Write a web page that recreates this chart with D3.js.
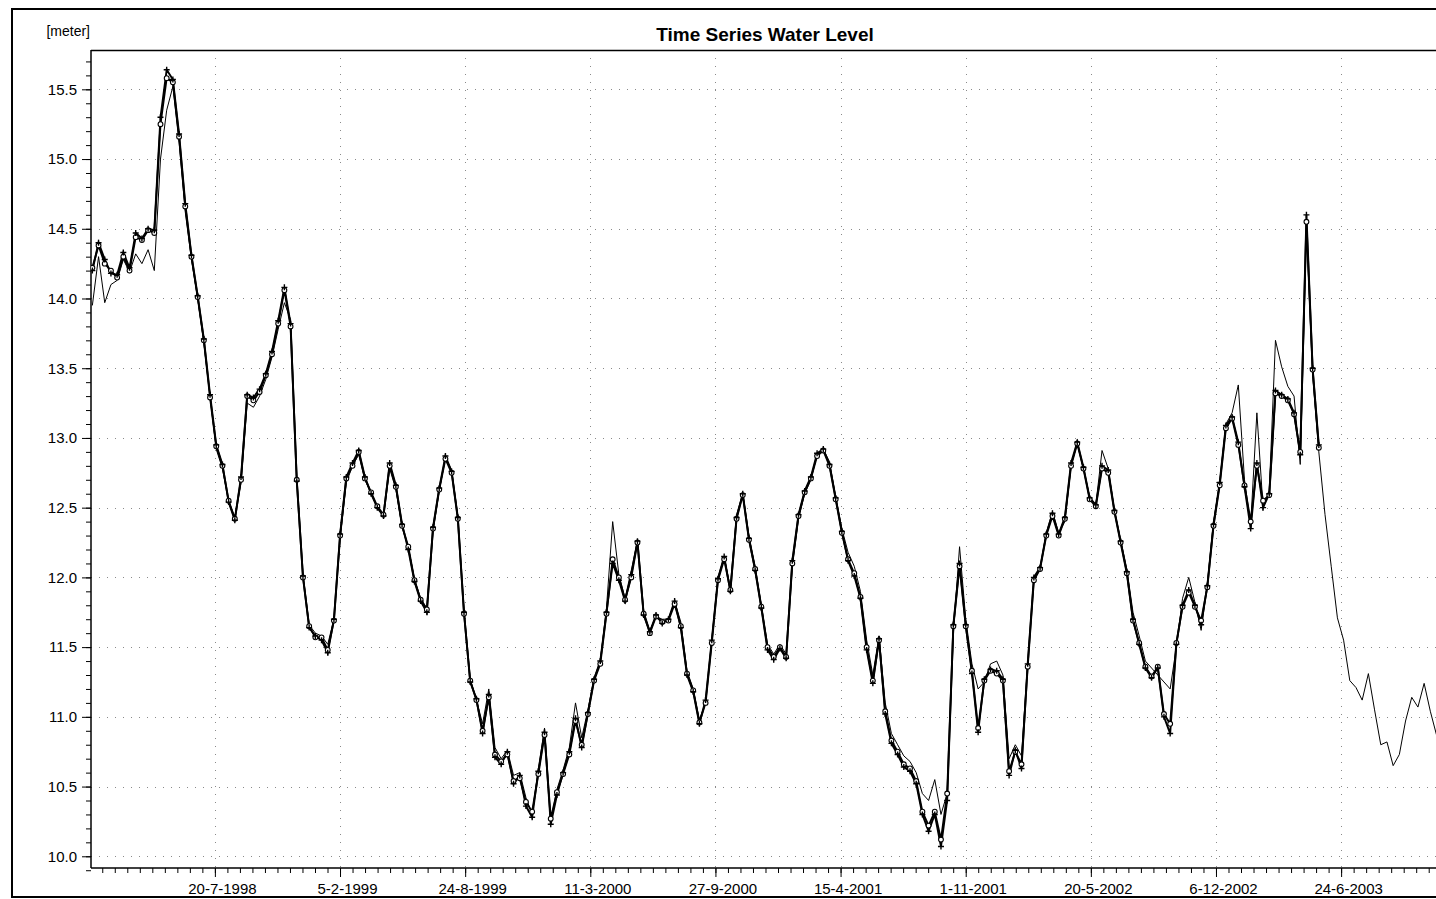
<!DOCTYPE html>
<html>
<head>
<meta charset="utf-8">
<script src="https://cdn.jsdelivr.net/npm/d3@7"></script>
<style>
  html, body { margin: 0; padding: 0; background: #fff; }
  svg { display: block; font-family: "Liberation Sans", Arial, sans-serif; }
</style>
</head>
<body>
<svg id="chart" width="1436" height="899"></svg>
<script>
// ---------------- data ----------------
const chartTitle = "Time Series Water Level";
const unitLabel = "[meter]";
// samples start on this date and are spaced sampleStepDays apart
const sampleStart = "1998-01-05T04:00:00";
const sampleStepDays = 9.9;

// x tick labels (major ticks every 200 days)
const xTickLabels = ["20-7-1998","5-2-1999","24-8-1999","11-3-2000","27-9-2000",
                     "15-4-2001","1-11-2001","20-5-2002","6-12-2002","24-6-2003"];
const yTickLabels = [10.0,10.5,11.0,11.5,12.0,12.5,13.0,13.5,14.0,14.5,15.0,15.5];

// observed series 1 (circle markers)
const observedA = [
 14.22,14.38,14.25,14.20,14.15,14.30,14.20,14.44,14.42,14.49,
 14.47,15.25,15.58,15.55,15.16,14.66,14.30,14.01,13.70,13.29,
 12.94,12.80,12.55,12.42,12.70,13.30,13.27,13.33,13.45,13.60,
 13.82,14.06,13.80,12.70,12.00,11.65,11.57,11.57,11.48,11.69,
 12.30,12.71,12.80,12.90,12.71,12.61,12.51,12.45,12.80,12.65,
 12.37,12.22,11.98,11.84,11.77,12.35,12.63,12.85,12.75,12.42,
 11.74,11.26,11.12,10.90,11.14,10.73,10.68,10.73,10.54,10.56,
 10.39,10.32,10.59,10.87,10.27,10.46,10.59,10.73,10.97,10.80,
 11.02,11.26,11.38,11.74,12.13,12.00,11.84,12.00,12.25,11.74,
 11.60,11.72,11.68,11.69,11.81,11.65,11.31,11.19,10.96,11.10,
 11.53,11.98,12.13,11.91,12.42,12.59,12.27,12.06,11.79,11.50,
 11.43,11.50,11.43,12.10,12.44,12.61,12.71,12.87,12.91,12.80,
 12.56,12.32,12.13,12.03,11.86,11.50,11.26,11.55,11.04,10.83,
 10.75,10.66,10.63,10.54,10.32,10.22,10.32,10.12,10.45,11.65,
 12.08,11.65,11.33,10.92,11.26,11.33,11.31,11.26,10.61,10.75,
 10.66,11.36,11.98,12.06,12.30,12.44,12.30,12.42,12.80,12.96,
 12.78,12.56,12.51,12.78,12.75,12.47,12.25,12.03,11.69,11.53,
 11.36,11.29,11.36,11.02,10.95,11.53,11.79,11.89,11.79,11.69,
 11.93,12.37,12.66,13.07,13.14,12.95,12.66,12.40,12.80,12.55,
 12.59,13.32,13.30,13.27,13.17,12.90,14.55,13.49,12.93
];
// observed series 2 (plus markers)
const observedB = [
 14.20,14.40,14.28,14.18,14.17,14.33,14.22,14.47,14.43,14.50,
 14.49,15.30,15.64,15.57,15.18,14.68,14.31,14.02,13.71,13.31,
 12.95,12.81,12.54,12.41,12.72,13.31,13.29,13.35,13.46,13.62,
 13.84,14.08,13.82,12.69,12.01,11.64,11.58,11.55,11.46,11.70,
 12.31,12.72,12.82,12.91,12.72,12.60,12.50,12.44,12.82,12.66,
 12.38,12.20,11.97,11.83,11.75,12.36,12.64,12.87,12.76,12.43,
 11.75,11.25,11.13,10.88,11.16,10.71,10.66,10.75,10.52,10.58,
 10.36,10.28,10.61,10.89,10.23,10.44,10.60,10.75,10.99,10.78,
 11.03,11.27,11.40,11.75,12.10,11.98,11.83,12.02,12.26,11.73,
 11.61,11.73,11.67,11.70,11.83,11.64,11.30,11.18,10.95,11.12,
 11.55,11.99,12.15,11.90,12.43,12.60,12.28,12.05,11.78,11.48,
 11.41,11.49,11.42,12.12,12.45,12.62,12.72,12.89,12.92,12.81,
 12.57,12.33,12.12,12.01,11.85,11.48,11.24,11.56,11.02,10.81,
 10.73,10.64,10.61,10.52,10.30,10.18,10.30,10.07,10.40,11.66,
 12.10,11.66,11.31,10.89,11.27,11.34,11.33,11.27,10.58,10.76,
 10.63,11.38,12.00,12.07,12.31,12.46,12.31,12.43,12.82,12.97,
 12.79,12.57,12.52,12.80,12.77,12.48,12.26,12.04,11.70,11.52,
 11.35,11.28,11.35,11.00,10.88,11.52,11.80,11.91,11.80,11.66,
 11.94,12.38,12.68,13.09,13.15,12.97,12.65,12.35,12.82,12.50,
 12.60,13.34,13.31,13.28,13.18,12.88,14.60,13.50,12.95
];
// simulated series (thin line)
const simulated = [
 13.95,14.30,13.97,14.10,14.13,14.28,14.19,14.32,14.25,14.35,
 14.20,15.00,15.35,15.52,15.12,14.62,14.28,14.00,13.68,13.30,
 12.92,12.78,12.55,12.43,12.68,13.25,13.22,13.30,13.42,13.58,
 13.78,13.97,13.85,12.72,12.02,11.66,11.60,11.58,11.52,11.70,
 12.28,12.68,12.80,12.88,12.70,12.60,12.50,12.44,12.78,12.63,
 12.36,12.22,11.99,11.85,11.78,12.33,12.62,12.86,12.77,12.44,
 11.76,11.27,11.12,10.95,11.20,10.78,10.70,10.76,10.58,10.60,
 10.42,10.30,10.62,10.92,10.25,10.48,10.62,10.78,11.10,10.85,
 11.05,11.28,11.40,11.78,12.40,12.02,11.85,12.05,12.26,11.76,
 11.62,11.72,11.70,11.70,11.83,11.68,11.33,11.20,10.98,11.10,
 11.55,12.00,12.15,11.92,12.45,12.60,12.30,12.08,11.80,11.52,
 11.45,11.52,11.45,12.08,12.42,12.60,12.70,12.88,12.92,12.83,
 12.58,12.35,12.18,12.08,11.90,11.55,11.30,11.58,11.10,10.88,
 10.80,10.72,10.68,10.60,10.45,10.40,10.55,10.30,10.45,11.60,
 12.22,11.70,11.38,11.20,11.25,11.38,11.40,11.30,10.70,10.80,
 10.72,11.38,11.98,12.06,12.32,12.47,12.32,12.40,12.80,12.96,
 12.78,12.58,12.52,12.91,12.78,12.48,12.27,12.06,11.75,11.58,
 11.40,11.35,11.30,11.25,11.20,11.50,11.85,12.00,11.82,11.62,
 11.95,12.40,12.68,13.10,13.18,13.38,12.70,12.38,13.18,12.50,
 12.62,13.70,13.51,13.37,13.30,12.81,14.50,13.45,12.90,12.45,
 12.08,11.71,11.55,11.26,11.21,11.12,11.31,11.05,10.80,10.82,
 10.65,10.73,10.97,11.14,11.07,11.24,11.04,10.87,10.85,10.82,
 10.80
];

// ---------------- layout ----------------
const frame = {x: 12, y: 9, right: 1452, bottom: 897};
const plot = {left: 91, top: 50, right: 1460, bottom: 868};

const svg = d3.select("#chart");

const parseDMY = d3.timeParse("%d-%m-%Y");
const fmtDMY = d3.timeFormat("%-d-%-m-%Y");
const start = new Date(sampleStart);
const dateAt = i => new Date(start.getTime() + i * sampleStepDays * 86400000);

const x = d3.scaleTime()
  .domain([new Date(1998, 0, 3), new Date(2003, 11, 31)])
  .range([plot.left, plot.right]);
const y = d3.scaleLinear()
  .domain([9.916, 15.782])
  .range([plot.bottom, plot.top]);

// outer frame
svg.append("rect")
  .attr("x", frame.x).attr("y", frame.y)
  .attr("width", frame.right - frame.x).attr("height", frame.bottom - frame.y)
  .attr("fill", "none").attr("stroke", "#000").attr("stroke-width", 2);

// title & unit
svg.append("text")
  .attr("x", 765).attr("y", 41)
  .attr("text-anchor", "middle")
  .attr("font-size", 19).attr("font-weight", "bold")
  .text(chartTitle);
svg.append("text")
  .attr("x", 90).attr("y", 36)
  .attr("text-anchor", "end")
  .attr("font-size", 14)
  .text(unitLabel);

// clip
svg.append("clipPath").attr("id", "clip")
  .append("rect")
  .attr("x", plot.left).attr("y", plot.top)
  .attr("width", plot.right - plot.left).attr("height", plot.bottom - plot.top);

// ticks
const xMajor = xTickLabels.map(parseDMY);
const xMinor = [];
for (let d = d3.timeDay.offset(xMajor[0], -20 * 10); d <= x.domain()[1]; d = d3.timeDay.offset(d, 20)) {
  if (d >= x.domain()[0]) xMinor.push(d);
}
const yMinor = d3.range(99, 158).map(v => v / 10);

// grid
const grid = svg.append("g").attr("stroke", "#8a8a8a").attr("stroke-width", 1)
  .attr("stroke-dasharray", "1,7");
grid.selectAll(".gy").data(yTickLabels).join("line")
  .attr("x1", plot.left).attr("x2", plot.right)
  .attr("y1", d => Math.round(y(d)) + 0.5).attr("y2", d => Math.round(y(d)) + 0.5);
grid.selectAll(".gx").data(xMajor).join("line")
  .attr("y1", plot.top).attr("y2", plot.bottom)
  .attr("x1", d => Math.round(x(d)) + 0.5).attr("x2", d => Math.round(x(d)) + 0.5);

// plot border (top line)
svg.append("line")
  .attr("x1", plot.left).attr("x2", plot.right)
  .attr("y1", plot.top + 0.5).attr("y2", plot.top + 0.5)
  .attr("stroke", "#000").attr("stroke-width", 1.5);

// axes
const yAxisMinor = d3.axisLeft(y).tickValues(yMinor).tickSize(5).tickFormat("");
const yAxis = d3.axisLeft(y).tickValues(yTickLabels).tickSize(9).tickPadding(5)
  .tickFormat(d3.format(".1f"));
const gyMinor = svg.append("g").attr("transform", `translate(${plot.left},0)`).call(yAxisMinor);
const gy = svg.append("g").attr("transform", `translate(${plot.left},0)`).call(yAxis);
gy.select(".domain").attr("stroke-width", 1.5).attr("d", `M0,${plot.top}V${plot.bottom}`);
gyMinor.select(".domain").remove();
gy.selectAll("text").attr("font-size", 15).attr("font-family", "Liberation Sans, Arial, sans-serif").attr("fill", "#000");

const xAxisMinor = d3.axisBottom(x).tickValues(xMinor).tickSize(5).tickFormat("");
const xAxis = d3.axisBottom(x).tickValues(xMajor).tickSize(9).tickPadding(6)
  .tickFormat(fmtDMY);
const gxMinor = svg.append("g").attr("transform", `translate(0,${plot.bottom})`).call(xAxisMinor);
const gx = svg.append("g").attr("transform", `translate(0,${plot.bottom})`).call(xAxis);
gxMinor.select(".domain").remove();
gx.select(".domain").attr("stroke-width", 1.5).attr("d", `M${plot.left},0H${plot.right}`);
gx.selectAll("text").attr("font-size", 15).attr("dx", 7)
  .attr("font-family", "Liberation Sans, Arial, sans-serif").attr("fill", "#000");

// series
const body = svg.append("g").attr("clip-path", "url(#clip)");
const line = d3.line().x((d, i) => x(dateAt(i))).y(d => y(d));

body.append("path").datum(simulated)
  .attr("fill", "none").attr("stroke", "#000").attr("stroke-width", 1)
  .attr("d", line);
body.append("path").datum(observedA)
  .attr("fill", "none").attr("stroke", "#000").attr("stroke-width", 1.9)
  .attr("d", line);
body.append("path").datum(observedB)
  .attr("fill", "none").attr("stroke", "#000").attr("stroke-width", 1.9)
  .attr("d", line);

body.selectAll(".mA").data(observedA).join("circle")
  .attr("cx", (d, i) => x(dateAt(i))).attr("cy", d => y(d))
  .attr("r", 2.4).attr("fill", "#fff").attr("stroke", "#000").attr("stroke-width", 1.1);
body.selectAll(".mB").data(observedB).join("path")
  .attr("transform", (d, i) => `translate(${x(dateAt(i))},${y(d)})`)
  .attr("d", "M-3,0H3M0,-3V3")
  .attr("stroke", "#000").attr("stroke-width", 1.4);
</script>
</body>
</html>
